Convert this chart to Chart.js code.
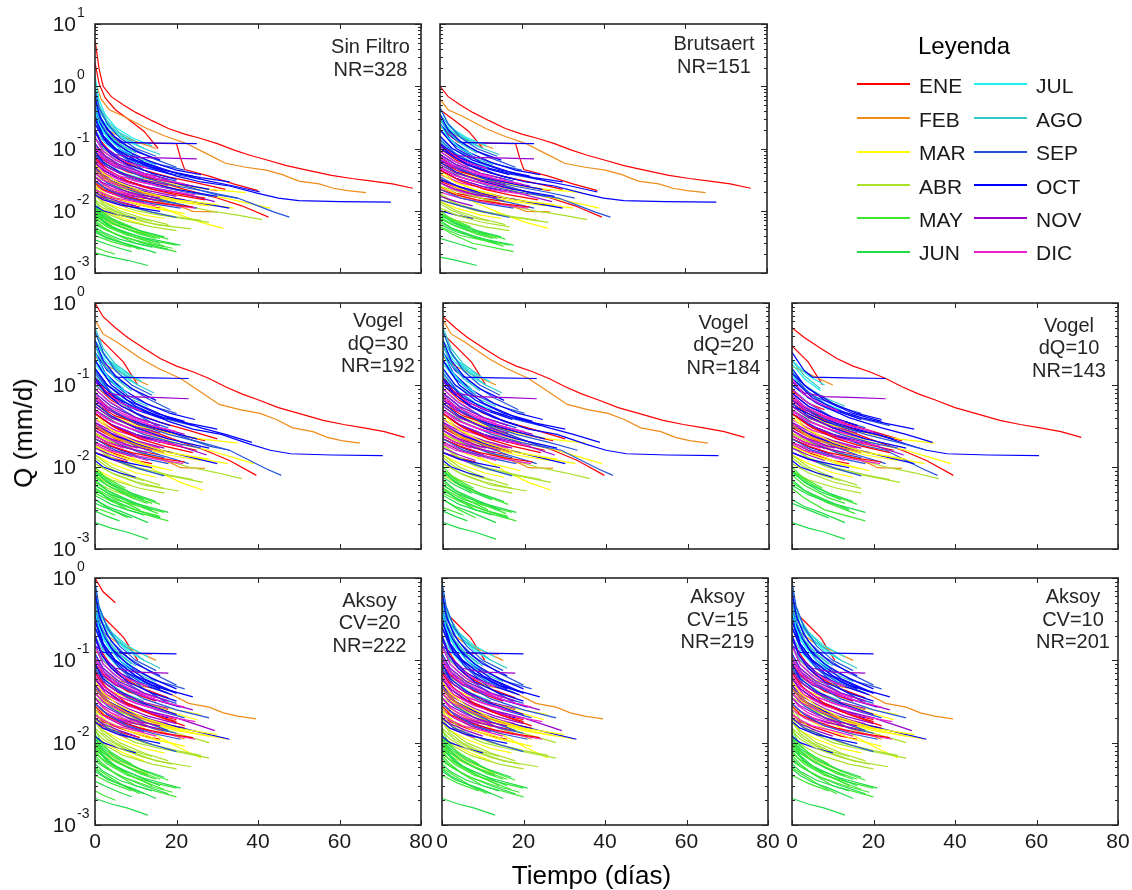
<!DOCTYPE html>
<html>
<head>
<meta charset="utf-8">
<script src="https://cdn.jsdelivr.net/npm/chart.js@4.4.1/dist/chart.umd.min.js"></script>
<style>
  body { margin: 0; background: #fff; }
  #lienzo { position: relative; width: 1132px; height: 890px; overflow: hidden;
            font-family: "Liberation Sans", Arial, sans-serif; color: #111; }
  #lienzo canvas { position: absolute; left: 0; top: 0; }
  .rotulo { position: absolute; white-space: nowrap; }
  .linea { position: absolute; height: 2px; }
</style>
</head>
<body>
<div id="lienzo"></div>
<script>
/* --------------- Meses y colores --------------------- */
const meses = ["ENE", "FEB", "MAR", "ABR", "MAY", "JUN", "JUL", "AGO", "SEP", "OCT", "NOV", "DIC"];
const coloresMes = ["#ff0000", "#f08c1a", "#ffff00", "#a8e02a", "#3ee830", "#20dc48",
                    "#20f0f0", "#30c8c8", "#2454dc", "#0000ff", "#9a00cc", "#ee22cc"];
const ticksTiempo = [0, 20, 40, 60, 80];

/* --------------- Recesiones: mes y puntos [t (días), Q (mm/d), ...] --------------------- */
const mesRecesion = [
  0, 0, 0, 0, 0, 0, 0, 0, 0, 0, 0, 0,
  1, 1, 1, 1, 1, 1,
  2, 2, 2, 2, 2, 2, 2, 2,
  3, 3, 3, 3, 3, 3, 3, 3, 3,
  4, 4, 4, 4, 4, 4, 4, 4, 4, 4,
  5, 5, 5, 5, 5, 5, 5, 5, 5, 5,
  6, 6, 6, 6, 6, 6,
  7, 7, 7, 7, 7, 7,
  8, 8, 8, 8, 8, 8, 8, 8, 8, 8,
  9, 9, 9, 9, 9, 9, 9, 9, 9, 9, 9, 9,
  10, 10, 10, 10, 10, 10, 10, 10,
  11, 11, 11, 11, 11, 11, 11, 11, 11, 11,
  // años siguientes, meses mezclados
  9, 11, 0, 10, 8, 2, 11, 9, 4, 5, 3, 10, 0, 8, 11, 6, 9, 1, 4, 7, 11, 9, 2, 10
];
const puntosRecesion = [
  // ENE
  [0,5.6, 1,1.9, 2,1.0, 4,0.68, 7,0.5, 10,0.38, 14,0.28, 18,0.21, 22,0.17, 26,0.145, 30,0.12, 34,0.095, 38,0.078, 42,0.066, 47,0.053, 52,0.045, 58,0.037, 63,0.033, 68,0.03, 73,0.027, 78,0.023],
  [0,2.4, 1,1.1, 2.5,0.65, 5,0.42, 8,0.3, 12,0.19, 15.5,0.1],
  [0,0.35, 1.5,0.24, 3,0.18, 6,0.125, 12,0.122, 20,0.12, 21,0.07, 22,0.046, 28,0.036, 34,0.027, 40,0.021],
  [0,0.12, 3,0.07, 8,0.045, 15,0.03, 22,0.022, 30,0.016, 36,0.012, 42.6,0.0079],
  [0,0.15, 2,0.1, 6,0.065, 12,0.045, 18,0.035, 25,0.028, 32,0.022],
  [0,0.06, 2,0.045, 6,0.032, 12,0.024, 20,0.019, 27,0.016],
  [0,0.03, 2,0.024, 6,0.019, 12,0.016, 18,0.014],
  [0,0.09, 3,0.06, 8,0.042, 15,0.032, 23,0.025, 30,0.021],
  [0,0.022, 2,0.018, 6,0.015, 12,0.012, 16,0.011],
  [0,0.04, 3,0.03, 8,0.022, 14,0.018, 22,0.015],
  [0,0.018, 3,0.015, 7,0.013, 11,0.0115],
  [0,0.2, 1.5,0.13, 4,0.085, 8,0.06, 12,0.05],
  // FEB
  [0,1.2, 1.5,0.62, 3.5,0.42, 7,0.33, 12.7,0.21, 17,0.16, 22.5,0.12, 27,0.085, 32,0.058, 37,0.05, 42,0.045, 46,0.038, 50,0.03, 55,0.027, 58.5,0.023, 62,0.021, 66.5,0.0195],
  [0,0.05, 3,0.033, 6,0.025, 14,0.015, 22,0.011, 24,0.0098, 30,0.0096],
  [0,0.08, 2,0.055, 6,0.04, 12,0.03, 18,0.025],
  [0,0.035, 2,0.026, 6,0.02, 12,0.016],
  [0,0.3, 2,0.22, 5,0.17, 10,0.13, 15,0.1],
  [0,0.02, 3,0.015, 8,0.012, 14,0.0095],
  // MAR
  [0,0.08, 4,0.05, 10,0.033, 18,0.024, 25,0.019, 32,0.016, 38,0.013, 43,0.011],
  [0,0.04, 5,0.025, 12,0.015, 20,0.009, 26,0.0065, 31.5,0.0052],
  [0,0.05, 2,0.035, 6,0.024, 12,0.018, 20,0.014, 28,0.012],
  [0,0.03, 3,0.02, 8,0.015, 15,0.011, 22,0.009],
  [0,0.07, 1.5,0.045, 5,0.03, 10,0.022, 18,0.016, 26,0.013, 34,0.011],
  [0,0.018, 2,0.014, 6,0.011, 12,0.0085, 17,0.0075],
  [0,0.1, 2,0.06, 6,0.042, 12,0.032, 20,0.026, 28,0.022, 37,0.0195],
  [0,0.012, 3,0.0095, 7,0.0075, 12,0.006],
  // ABR
  [0,0.02, 2,0.014, 6,0.01, 12,0.0075, 18,0.006],
  [0,0.015, 3,0.011, 8,0.008, 15,0.006, 23.6,0.0051],
  [0,0.028, 2,0.019, 6,0.013, 12,0.01, 20,0.008, 26,0.007],
  [0,0.01, 2,0.008, 6,0.006, 12,0.0045],
  [0,0.012, 3,0.009, 7,0.007, 14,0.0055, 20,0.0048],
  [0,0.025, 1.5,0.018, 5,0.013, 10,0.01, 16,0.0085, 28,0.0065],
  [0,0.008, 3,0.0065, 8,0.005, 13,0.0042],
  [0,0.035, 5,0.025, 12,0.018, 20,0.013, 28,0.01, 35,0.0085, 41,0.0072],
  [0,0.018, 2,0.013, 5,0.01, 9,0.008, 14,0.0068],
  // MAY
  [0,0.012, 2,0.009, 6,0.0065, 12,0.0045, 18,0.0035],
  [0,0.009, 3,0.006, 8,0.0042, 14,0.003],
  [0,0.007, 2,0.0055, 5,0.0042, 10,0.003, 20,0.0022],
  [0,0.015, 1.5,0.01, 4,0.0075, 9,0.0055],
  [0,0.005, 3,0.004, 7,0.003, 11,0.0024],
  [0,0.011, 2,0.008, 5,0.006, 11,0.0042, 15,0.0036],
  [0,0.004, 4,0.0032, 9,0.0026],
  [0,0.008, 1.5,0.0065, 5,0.005, 10,0.0037, 17,0.0027],
  [0,0.0075, 3,0.0055, 8,0.004, 14,0.0033, 20,0.0028],
  [0,0.0026, 2,0.0023, 5,0.002],
  // JUN
  [0,0.0021, 4,0.0018, 8,0.0016, 13,0.00132],
  [0,0.01, 2,0.007, 5,0.0052, 10,0.004, 16,0.003],
  [0,0.0065, 2,0.0052, 6,0.004, 12,0.003, 18,0.0024],
  [0,0.0045, 3,0.0036, 7,0.003, 12,0.0024],
  [0,0.013, 1,0.009, 4,0.0065, 8,0.005, 13,0.004],
  [0,0.0055, 2,0.0045, 6,0.0035, 10,0.003, 14,0.0026],
  [0,0.0085, 3,0.006, 7,0.0046, 12,0.0037, 21,0.0028],
  [0,0.0034, 3,0.0029, 6,0.0025, 9,0.0022],
  [0,0.0095, 2,0.0075, 5,0.006, 9,0.0048],
  [0,0.0048, 2,0.004, 5,0.0033, 9,0.0028, 15,0.0021],
  // JUL
  [0,1.5, 1,0.6, 2.5,0.35, 5,0.22, 9,0.15, 14,0.11],
  [0,0.8, 1,0.45, 3,0.25, 6,0.16, 10,0.12],
  [0,0.5, 1.5,0.3, 4,0.2, 8,0.13, 12,0.1],
  [0,0.3, 2,0.18, 5,0.12, 9,0.085],
  [0,0.2, 2,0.13, 5,0.09, 10,0.06, 14,0.05],
  [0,0.12, 2,0.08, 6,0.055, 10,0.045],
  // AGO
  [0,1.0, 1,0.5, 3,0.28, 6,0.18, 10,0.13],
  [0,0.6, 1.5,0.35, 4,0.22, 8,0.14, 12,0.1, 16,0.08],
  [0,0.35, 2,0.2, 5,0.13, 9,0.09],
  [0,0.25, 2,0.15, 5,0.1, 10,0.07, 15,0.055],
  [0,0.15, 2,0.1, 6,0.07, 11,0.05],
  [0,0.08, 3,0.055, 7,0.04, 12,0.032],
  // SEP
  [0,0.3, 2,0.15, 6,0.08, 12,0.045, 18,0.03, 25,0.022, 30,0.018, 35,0.016, 40,0.012, 44,0.0095, 47.7,0.0079],
  [0,0.9, 1,0.45, 3,0.25, 6,0.15, 10,0.1, 15,0.075],
  [0,0.6, 1.5,0.3, 4,0.17, 8,0.11, 14,0.07, 20,0.05],
  [0,0.4, 2,0.2, 5,0.12, 10,0.075, 16,0.055, 22,0.045],
  [0,0.25, 2,0.14, 6,0.08, 11,0.055, 18,0.04, 26,0.032],
  [0,0.15, 2,0.09, 6,0.06, 12,0.04, 20,0.03],
  [0,0.08, 3,0.05, 8,0.035, 15,0.025, 22,0.02, 29,0.017],
  [0,0.04, 3,0.028, 8,0.02, 14,0.015, 20,0.013],
  [0,0.02, 3,0.015, 8,0.012, 14,0.0095, 20,0.0078],
  [0,0.05, 2,0.035, 6,0.025, 12,0.018, 18,0.014, 25,0.011],
  // OCT
  [0,0.45, 2,0.25, 5,0.15, 7,0.125, 15,0.122, 25,0.12],
  [0,0.35, 2,0.16, 5,0.1, 9,0.07, 12,0.055, 16,0.045, 20,0.036, 26,0.029, 33,0.025, 40,0.019, 45,0.016, 50,0.0145, 60,0.014, 72.6,0.0138],
  [0,0.25, 3,0.12, 8,0.07, 14,0.05, 20,0.04, 26,0.034, 33,0.029],
  [0,0.4, 2,0.2, 6,0.1, 12,0.06, 20,0.04, 28,0.03, 34,0.025, 40.5,0.02],
  [0,0.7, 1,0.35, 3,0.2, 6,0.13, 10,0.09, 16,0.065],
  [0,0.5, 1.5,0.25, 4,0.14, 8,0.09, 14,0.06, 20,0.045, 26,0.038],
  [0,0.3, 2,0.16, 5,0.1, 10,0.065, 17,0.045, 24,0.036],
  [0,0.18, 2,0.11, 6,0.07, 12,0.05, 19,0.038],
  [0,0.1, 3,0.065, 8,0.045, 14,0.034, 21,0.027, 28,0.022],
  [0,0.06, 2,0.045, 6,0.033, 12,0.025, 18,0.02],
  [0,0.03, 3,0.022, 8,0.017, 13,0.014],
  [0,0.012, 2,0.01, 6,0.0085, 10,0.0075],
  // NOV
  [0,0.2, 2,0.11, 5,0.08, 10,0.072, 18,0.07, 25,0.068],
  [0,0.12, 2,0.08, 6,0.055, 12,0.04, 18,0.032],
  [0,0.06, 2,0.045, 6,0.033, 12,0.025, 20,0.02, 29.4,0.014],
  [0,0.03, 2,0.024, 5,0.02, 10,0.017, 15,0.015],
  [0,0.045, 3,0.032, 8,0.024, 14,0.019],
  [0,0.02, 2,0.017, 6,0.014, 10,0.012],
  [0,0.09, 2,0.065, 5,0.05, 10,0.04, 16,0.032, 24,0.025],
  [0,0.025, 3,0.02, 7,0.016, 12,0.0135],
  // DIC
  [0,0.2, 1.5,0.12, 4,0.08, 8,0.06, 13,0.048],
  [0,0.1, 2,0.07, 5,0.052, 10,0.04, 16,0.032, 22,0.027],
  [0,0.07, 2,0.05, 6,0.036, 12,0.028, 20,0.022],
  [0,0.04, 2,0.031, 6,0.025, 11,0.02, 17,0.017],
  [0,0.03, 2,0.024, 5,0.02, 9,0.017],
  [0,0.025, 3,0.02, 8,0.016, 14,0.0135, 24.6,0.011],
  [0,0.055, 3,0.038, 8,0.028, 15,0.022, 24.6,0.018],
  [0,0.018, 2,0.015, 5,0.013, 8,0.0115],
  [0,0.15, 2,0.09, 5,0.065, 9,0.05],
  [0,0.035, 1.5,0.028, 4,0.023, 8,0.019, 12,0.017],
  // años siguientes
  [0,0.09, 2,0.06, 6,0.042, 12,0.03, 20,0.022, 30,0.017],
  [0,0.045, 2,0.034, 6,0.026, 12,0.02, 18,0.017],
  [0,0.07, 3,0.045, 8,0.03, 14,0.022, 20,0.018, 27,0.015],
  [0,0.035, 2,0.028, 6,0.022, 11,0.018, 16,0.016],
  [0,0.12, 2,0.075, 6,0.05, 12,0.034, 20,0.025, 28,0.02, 35,0.016],
  [0,0.025, 3,0.018, 8,0.014, 14,0.011, 20,0.0095],
  [0,0.065, 2,0.048, 5,0.038, 10,0.03, 16,0.025],
  [0,0.2, 1.5,0.12, 4,0.08, 8,0.055, 14,0.04, 20,0.032],
  [0,0.006, 3,0.0048, 7,0.0038, 13,0.003, 19,0.0025],
  [0,0.011, 2,0.0085, 6,0.0062, 11,0.0048, 17,0.0038],
  [0,0.014, 2,0.011, 6,0.0085, 12,0.0066, 19,0.0055],
  [0,0.05, 3,0.035, 8,0.026, 13,0.021, 20,0.017],
  [0,0.028, 2,0.022, 6,0.018, 11,0.015, 17,0.013, 24,0.0115],
  [0,0.03, 3,0.022, 8,0.016, 14,0.013, 21,0.011],
  [0,0.022, 2,0.019, 5,0.016, 10,0.014, 15,0.012],
  [0,0.4, 1,0.25, 3,0.15, 6,0.1, 9,0.08],
  [0,0.045, 3,0.032, 8,0.024, 15,0.018, 24,0.014, 33,0.011],
  [0,0.045, 3,0.032, 8,0.023, 14,0.018, 20,0.015],
  [0,0.0095, 2,0.0075, 6,0.0056, 11,0.0044, 16,0.0036],
  [0,0.5, 1,0.3, 3,0.18, 6,0.12, 10,0.085],
  [0,0.11, 2,0.075, 5,0.055, 10,0.042, 15,0.035],
  [0,0.018, 2,0.015, 6,0.0125, 11,0.011, 16,0.0098],
  [0,0.055, 2,0.04, 6,0.028, 12,0.02, 20,0.015, 30,0.0125],
  [0,0.075, 2,0.055, 6,0.04, 12,0.031, 18,0.026]
];

/* --------------- Punto de inicio de cada recesión según el filtro (-1 = descartada) --------------------- */
const inicioSinFiltro = puntosRecesion.map(() => 0);
const inicioBrutsaert = [
  2, 3, 1, 1, 1, -1, 1, 1, -1, 1, -1, 1,
  1, 1, 1, -1, 1, 1,
  1, 1, 1, -1, 1, 1, 1, -1,
  1, -1, 1, -1, 1, 1, -1, 1, 1,
  1, -1, 1, 1, -1, 1, -1, 1, 1, -1,
  1, 1, -1, 1, 1, -1, 1, -1, 1, -1,
  2, 1, 1, -1, 1, 1,
  2, 1, 1, 1, -1, 1,
  2, 1, 1, 1, 1, 1, 1, -1, 1, 1,
  1, 2, 1, 1, 1, 1, 1, 1, 1, 1, -1, 1,
  1, 1, 1, -1, 1, 1, 1, -1,
  1, 1, 1, 1, -1, 1, 1, -1, 1, 1,
  1, -1, 1, 1, 1, -1, 1, 1, -1, 1, 1, -1, 1, 1, -1, 1, 1, -1, 1, 1, 1, -1, 1, 1
];
const inicioVogel30 = [
  2, 3, -1, 1, 1, 1, 1, 1, 1, 1, 1, 1,
  1, 1, 1, 1, 1, 1,
  1, 1, 1, 1, 1, 1, 1, 1,
  1, 1, 1, 1, 1, 1, 1, 1, 1,
  1, 1, 1, 1, 1, 1, 1, 1, 1, -1,
  0, 1, 1, 1, 1, 1, 1, 1, 1, 1,
  2, 1, 1, 1, 1, 1,
  1, 1, 1, 1, 1, 1,
  1, 1, 1, 1, 1, 1, 1, 1, 1, 1,
  1, 1, 1, 1, 1, 1, 1, 1, 1, 1, 1, 0,
  1, 1, 1, 1, 1, 1, 1, 1,
  1, 1, 1, 1, 1, 1, 1, 1, 1, 1,
  1, 1, 1, 1, 1, 1, 1, 1, 1, 1, 1, 1, 1, 1, 1, 1, 1, 1, 1, 1, 1, 1, 1, 1
];
const inicioVogel20 = [
  3, 3, -1, 1, 1, 1, 1, 1, -1, 1, 1, 1,
  1, 1, 1, 1, 1, -1,
  1, 1, 1, 1, 1, 1, 1, -1,
  1, 1, 1, 1, 1, 1, -1, 1, 1,
  1, 1, 1, 1, 1, -1, 1, 1, 1, -1,
  0, 1, 1, -1, 1, 1, 1, 1, 1, 1,
  2, 1, 1, 1, 1, 1,
  1, 1, 1, 1, -1, 1,
  2, 1, 1, 1, 1, 1, 1, 1, 1, 1,
  1, 2, 1, 1, 1, 1, 1, 1, 1, 1, 1, 0,
  1, 1, 1, 1, 1, 1, 1, 1,
  1, 1, 1, 1, 1, 1, 1, 1, 1, 1,
  1, 1, 1, 1, 1, -1, 1, 1, 1, 1, 1, 1, 1, 1, 1, 1, 1, 1, -1, 1, 1, 1, 1, 1
];
const inicioVogel10 = [
  4, 4, -1, 1, 2, 1, 1, 1, 1, 1, -1, 2,
  -1, 1, 1, 1, 2, -1,
  1, -1, 1, 1, 1, 1, 1, -1,
  1, -1, 1, -1, 1, 1, -1, 1, 1,
  1, -1, 1, 1, -1, 1, -1, 1, -1, -1,
  0, 1, -1, 1, 1, -1, 1, -1, -1, 1,
  -1, -1, 2, 1, 1, 1,
  -1, -1, 1, 1, 1, 1,
  3, -1, -1, 2, 1, 1, 1, 1, 1, 1,
  1, 4, 1, 2, -1, 2, 1, 1, 1, 1, 1, 0,
  1, 1, 1, 1, 1, 1, 1, 1,
  1, 1, 1, 1, 1, 1, 1, 1, 1, 1,
  1, 1, 1, 1, 1, 1, 1, 2, -1, 1, 1, 1, 1, 1, 1, -1, 1, 1, -1, -1, 1, 1, 1, 1
];

/* --------------- Tramos [desde, hasta] usados por Aksoy y recesiones que entran en cada CV --------------------- */
const tramoAksoy = [
  [2,4], [3,6], [3,5], [2,5], [0,4], [0,4], [0,4], [0,3], [0,4], [0,4], [0,3], [0,4],
  [7,16], [0,4], [0,4], [0,3], [0,4], [0,3],
  [0,4], [0,4], [0,5], [0,4], [1,6], [0,4], [1,5], [0,3],
  [0,4], [0,4], [0,5], [0,3], [0,4], [0,5], [0,3], [0,4], [0,4],
  [0,4], [0,3], [0,4], [0,3], [0,3], [0,4], [0,2], [0,4], [0,4], [0,2],
  [0,3], [0,4], [0,4], [0,3], [0,4], [0,4], [0,4], [0,3], [0,3], [0,4],
  [1,5], [0,4], [0,4], [0,3], [0,4], [0,3],
  [1,4], [0,5], [0,3], [0,4], [0,3], [0,3],
  [0,4], [0,5], [0,5], [0,5], [0,4], [0,4], [0,4], [0,4], [0,4], [0,4],
  [2,5], [0,5], [0,4], [0,4], [0,5], [0,5], [0,5], [0,4], [0,4], [0,4], [0,3], [0,3],
  [0,4], [0,4], [0,5], [0,4], [0,3], [0,3], [0,5], [0,3],
  [0,4], [0,5], [0,4], [0,4], [0,3], [0,4], [0,4], [0,3], [0,3], [0,4],
  [0,4], [0,4], [0,4], [0,4], [0,5], [0,4], [0,4], [0,5], [0,4], [0,4], [0,4], [0,4],
  [0,5], [0,4], [0,4], [0,4], [0,5], [0,4], [0,4], [0,4], [0,4], [0,4], [0,5], [0,4]
];
const usaAksoy20 = puntosRecesion.map(() => 1);
const usaAksoy15 = [
  0, 1, 1, 1, 1, 1, 1, 1, 1, 1, 0, 1,
  1, 1, 1, 1, 1, 1,
  1, 1, 1, 1, 1, 1, 1, 1,
  1, 1, 1, 1, 1, 1, 1, 1, 1,
  1, 1, 1, 1, 1, 1, 1, 1, 1, 0,
  1, 1, 1, 1, 1, 1, 1, 0, 1, 1,
  1, 1, 1, 1, 1, 1,
  1, 1, 1, 1, 1, 1,
  1, 1, 1, 1, 1, 1, 1, 1, 1, 1,
  1, 1, 1, 1, 1, 1, 1, 1, 1, 1, 1, 1,
  1, 1, 1, 1, 1, 1, 1, 1,
  1, 1, 1, 1, 1, 1, 1, 1, 1, 1,
  1, 1, 1, 1, 1, 1, 1, 1, 1, 1, 1, 1, 1, 1, 1, 1, 1, 1, 1, 1, 1, 1, 1, 1
];
const usaAksoy10 = [
  0, 1, 0, 1, 1, 1, 1, 1, 1, 1, 0, 1,
  1, 1, 1, 0, 1, 1,
  1, 1, 1, 1, 1, 1, 1, 0,
  1, 1, 1, 1, 1, 1, 0, 1, 1,
  1, 1, 1, 1, 1, 1, 1, 1, 1, 0,
  1, 1, 1, 0, 1, 1, 1, 0, 1, 1,
  1, 1, 1, 1, 1, 1,
  1, 1, 1, 1, 1, 1,
  1, 1, 1, 1, 1, 1, 1, 1, 1, 1,
  1, 1, 1, 1, 1, 1, 1, 1, 1, 1, 0, 1,
  1, 1, 1, 1, 1, 1, 1, 0,
  1, 1, 1, 1, 1, 1, 1, 0, 1, 1,
  1, 1, 1, 1, 1, 0, 1, 1, 1, 1, 1, 1, 1, 1, 1, 1, 1, 1, 1, 1, 1, 1, 1, 1
];

/* --------------- Paneles --------------------- */
const paneles = [
  { texto: ["Sin Filtro", "NR=328"], caja: [95, 24, 421, 273], decadas: [-3, 1], inicio: inicioSinFiltro, textoX: 275.5, textoY: 29, ejeX: false, ejeY: true },
  { texto: ["Brutsaert", "NR=151"], caja: [440, 24, 767, 273], decadas: [-3, 1], inicio: inicioBrutsaert, textoX: 274, textoY: 26, ejeX: false, ejeY: false },
  { texto: ["Vogel", "dQ=30", "NR=192"], caja: [95, 303, 421, 549], decadas: [-3, 0], inicio: inicioVogel30, textoX: 283, textoY: 24, ejeX: false, ejeY: true },
  { texto: ["Vogel", "dQ=20", "NR=184"], caja: [443, 303, 769, 549], decadas: [-3, 0], inicio: inicioVogel20, textoX: 280.5, textoY: 25.5, ejeX: false, ejeY: false },
  { texto: ["Vogel", "dQ=10", "NR=143"], caja: [792, 303, 1118, 549], decadas: [-3, 0], inicio: inicioVogel10, textoX: 277, textoY: 28.5, ejeX: false, ejeY: false },
  { texto: ["Aksoy", "CV=20", "NR=222"], caja: [95, 578, 421, 825], decadas: [-3, 0], usa: usaAksoy20, textoX: 274.5, textoY: 28.5, ejeX: true, ejeY: true },
  { texto: ["Aksoy", "CV=15", "NR=219"], caja: [442, 578, 768, 825], decadas: [-3, 0], usa: usaAksoy15, textoX: 275.5, textoY: 25, ejeX: true, ejeY: false },
  { texto: ["Aksoy", "CV=10", "NR=201"], caja: [792, 578, 1118, 825], decadas: [-3, 0], usa: usaAksoy10, textoX: 281, textoY: 25, ejeX: true, ejeY: false }
];

const FUENTE = '"Liberation Sans", Arial, sans-serif';
const ANCHO = 1132, ALTO = 890;

// corta la recesión i entre dos puntos y lleva su inicio a t = 0
function tramo(i, desde, hasta) {
  const p = puntosRecesion[i];
  const fin = hasta < 0 ? p.length / 2 - 1 : hasta;
  const t0 = p[2 * desde];
  const datos = [];
  for (let k = desde; k <= fin; k++) datos.push({ x: p[2 * k] - t0, y: p[2 * k + 1] });
  return datos;
}

function curvasPanel(panel) {
  const curvas = [];
  puntosRecesion.forEach((_, i) => {
    let datos = null;
    if (panel.inicio && panel.inicio[i] >= 0) datos = tramo(i, panel.inicio[i], -1);
    if (panel.usa && panel.usa[i]) datos = tramo(i, tramoAksoy[i][0], tramoAksoy[i][1]);
    if (!datos) return;
    curvas.push({ data: datos, borderColor: coloresMes[mesRecesion[i]], borderWidth: 1.2,
                  pointRadius: 0, fill: false, tension: 0 });
  });
  // chart.js pinta el primer dataset encima: se invierte para que lo último quede arriba
  return curvas.reverse();
}

/* --------------- Marco, marcas y rótulos de cada panel --------------------- */
const marcoPanel = {
  id: "marcoPanel",
  afterDatasetsDraw(chart, args, cfg) {
    const { ctx, chartArea: a } = chart;
    const x = chart.scales.x, y = chart.scales.y;
    ctx.save();
    ctx.strokeStyle = "#262626";
    ctx.lineWidth = 1;
    ctx.beginPath();
    ticksTiempo.forEach(v => {
      const px = Math.round(x.getPixelForValue(v)) + 0.5;
      ctx.moveTo(px, a.bottom); ctx.lineTo(px, a.bottom - 5);
      ctx.moveTo(px, a.top); ctx.lineTo(px, a.top + 5);
    });
    for (let e = cfg.decadas[0]; e <= cfg.decadas[1]; e++) {
      for (let k = 1; k <= 9; k++) {
        if (e === cfg.decadas[1] && k > 1) break;
        const py = Math.round(y.getPixelForValue(k * Math.pow(10, e))) + 0.5;
        const largo = k === 1 ? 6 : 3;
        ctx.moveTo(a.left, py); ctx.lineTo(a.left + largo, py);
        ctx.moveTo(a.right, py); ctx.lineTo(a.right - largo, py);
      }
    }
    ctx.stroke();
    ctx.lineWidth = 1.6;
    ctx.strokeRect(a.left, a.top, a.right - a.left, a.bottom - a.top);

    ctx.fillStyle = "#1a1a1a";
    ctx.textBaseline = "alphabetic";
    if (cfg.ejeX) {
      ctx.font = "21px " + FUENTE;
      ctx.textAlign = "center";
      ticksTiempo.forEach(v => ctx.fillText(String(v), x.getPixelForValue(v), a.bottom + 23));
    }
    if (cfg.ejeY) {
      for (let e = cfg.decadas[0]; e <= cfg.decadas[1]; e++) {
        const py = y.getPixelForValue(Math.pow(10, e));
        ctx.font = "21px " + FUENTE;
        ctx.textAlign = "right";
        ctx.fillText("10", a.left - 19, py + 7);
        ctx.font = "14px " + FUENTE;
        ctx.textAlign = "left";
        ctx.fillText(String(e), a.left - 18, py - 7);
      }
    }
    ctx.fillStyle = "#262626";
    ctx.font = "20px " + FUENTE;
    ctx.textAlign = "center";
    cfg.texto.forEach((t, i) => ctx.fillText(t, a.left + cfg.textoX, a.top + cfg.textoY + i * 22.7));
    ctx.restore();
  }
};

const lienzo = document.getElementById("lienzo");

paneles.forEach(panel => {
  const canvas = document.createElement("canvas");
  canvas.width = ANCHO; canvas.height = ALTO;
  canvas.style.width = ANCHO + "px"; canvas.style.height = ALTO + "px";
  lienzo.appendChild(canvas);
  const [l, t, r, b] = panel.caja;
  new Chart(canvas, {
    type: "line",
    data: { datasets: curvasPanel(panel) },
    plugins: [marcoPanel],
    options: {
      responsive: false,
      animation: false,
      devicePixelRatio: 1,
      events: [],
      layout: { padding: { left: l, top: t, right: ANCHO - r, bottom: ALTO - b } },
      scales: {
        x: { type: "linear", min: 0, max: 80, display: false },
        y: { type: "logarithmic", min: Math.pow(10, panel.decadas[0]), max: Math.pow(10, panel.decadas[1]), display: false }
      },
      plugins: {
        legend: { display: false },
        tooltip: { enabled: false },
        marcoPanel: panel
      }
    }
  });
});

/* --------------- Leyenda y títulos de ejes --------------------- */
function rotulo(texto, izq, arriba, tam, extra) {
  const d = document.createElement("div");
  d.className = "rotulo";
  d.textContent = texto;
  d.style.left = izq + "px";
  d.style.top = arriba + "px";
  d.style.fontSize = tam + "px";
  d.style.lineHeight = tam + "px";
  if (extra) Object.assign(d.style, extra);
  lienzo.appendChild(d);
  return d;
}

rotulo("Leyenda", 964, 34, 24, { transform: "translateX(-50%)", color: "#000" });
const filasLeyenda = [84, 118, 151.5, 185, 218, 251.5];
meses.forEach((m, i) => {
  const col = Math.floor(i / 6), fila = i % 6;
  const x0 = col === 0 ? 857 : 974;
  const xt = col === 0 ? 919 : 1036;
  const ly = filasLeyenda[fila];
  const linea = document.createElement("div");
  linea.className = "linea";
  linea.style.left = x0 + "px";
  linea.style.top = (ly - 1) + "px";
  linea.style.width = "53px";
  linea.style.background = coloresMes[i];
  lienzo.appendChild(linea);
  rotulo(m, xt, ly - 9.5, 21, { color: "#1a1a1a" });
});

rotulo("Q (mm/d)", 23, 433, 26, { transform: "translate(-50%, -50%) rotate(-90deg)", color: "#000" });
rotulo("Tiempo (días)", 591.5, 862, 26, { transform: "translateX(-50%)", color: "#000" });
</script>
</body>
</html>
